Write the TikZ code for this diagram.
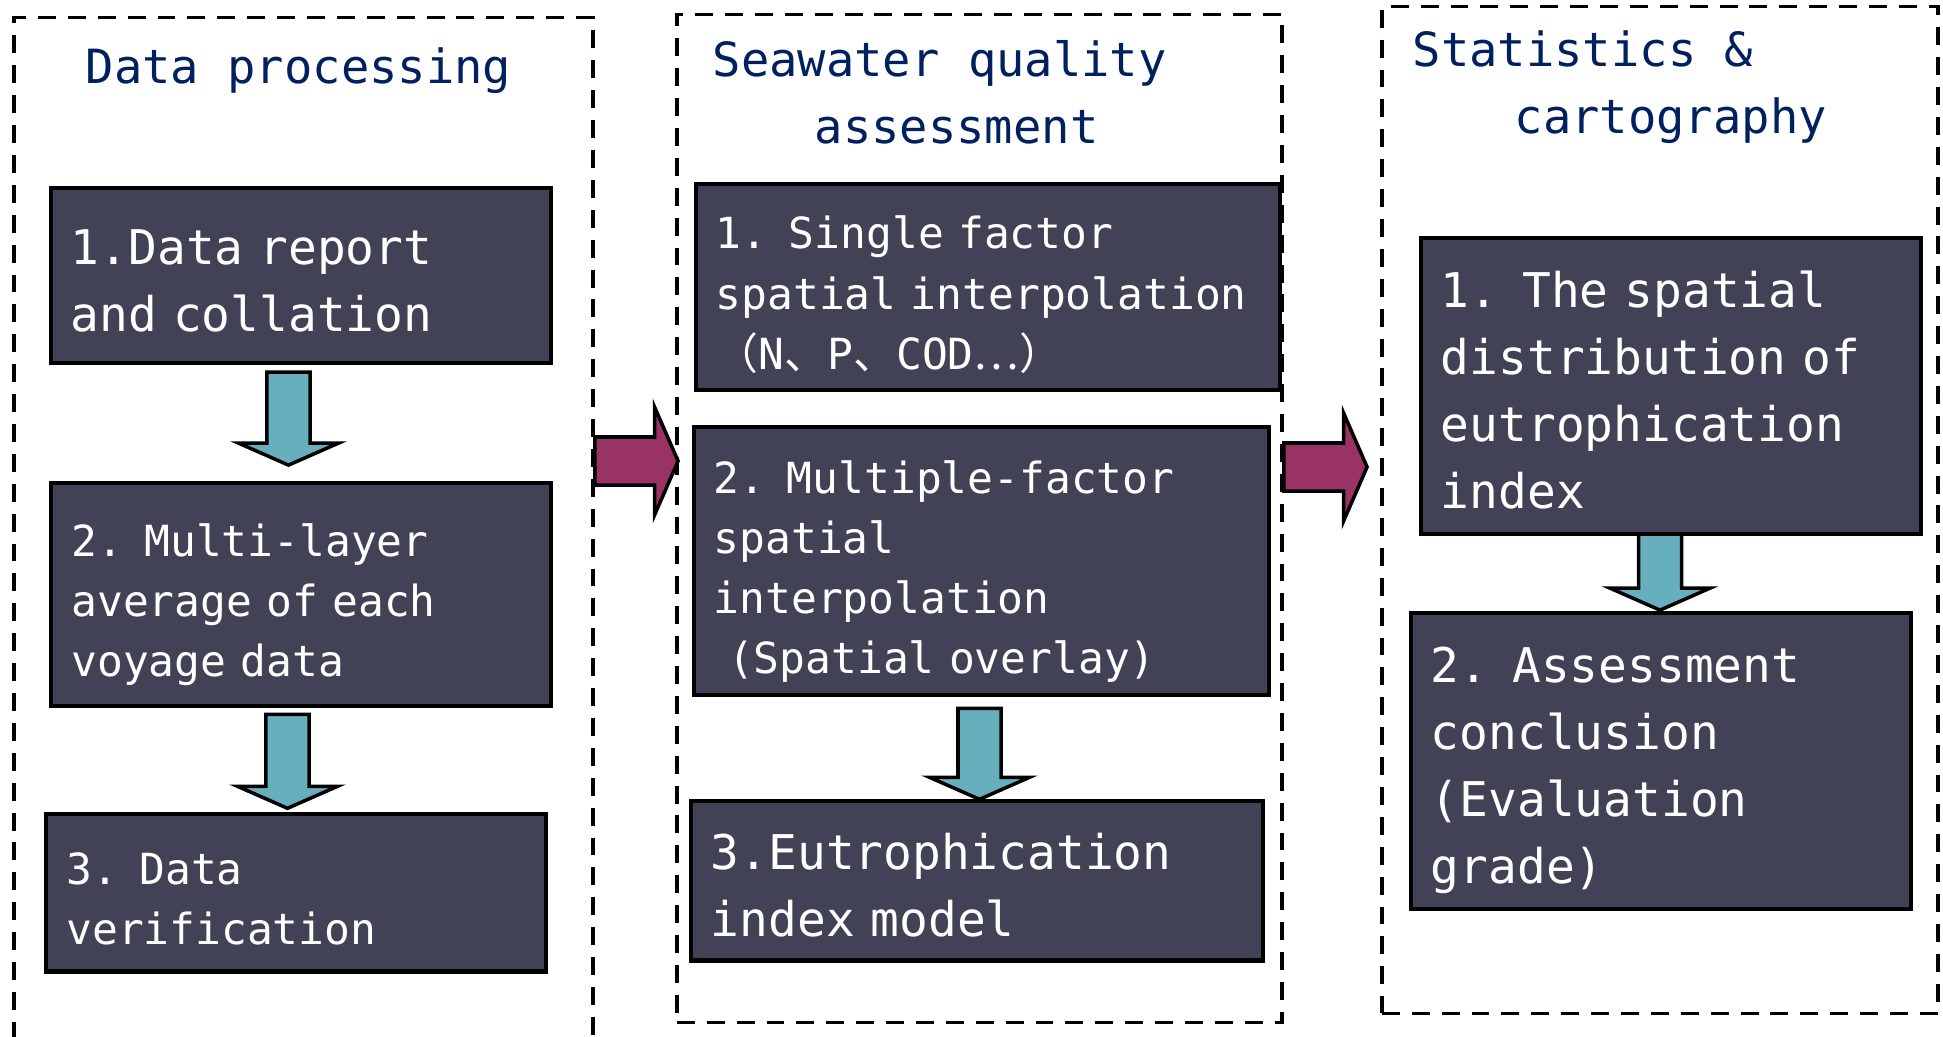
\documentclass[tikz,border=0pt]{standalone}
\usepackage{fontspec}
\setmainfont{DejaVu Sans Mono}
\newfontfamily\cjk{Noto Sans CJK SC}
\usetikzlibrary{positioning,calc}

\definecolor{boxgray}{RGB}{65,66,85}
\definecolor{titleblue}{RGB}{0,32,96}
\definecolor{arrowteal}{RGB}{104,175,189}
\definecolor{arrowplum}{RGB}{153,51,102}

\newcommand{\bigtype}{\fontsize{13.6pt}{19.05pt}\selectfont}
\newcommand{\smalltype}{\fontsize{12.2pt}{17.07pt}\selectfont}

\begin{document}
\begin{tikzpicture}[x=0.01cm, y=-0.01cm,
  frame/.style={draw, line width=1pt, dash pattern=on 5.1pt off 3.4pt},
  heading/.style={text=titleblue, align=left, inner sep=0pt,
    font=\fontsize{13.4pt}{18.9pt}\selectfont},
  stepbox/.style={draw=black, line width=1.2pt, fill=boxgray, text=white,
    align=left, inner xsep=0.2cm, inner ysep=0pt, outer sep=0pt,
    execute at begin node={\rule{0pt}{0.56cm}},
    execute at end node={\rule[-0.12cm]{0pt}{0.12cm}}},
  largetype/.style={font=\bigtype},
  smalltype/.style={font=\smalltype},
  downblock/.style={draw=black, line width=1pt, fill=arrowteal,
    to path={let \p1=(\tikztostart), \p2=(\tikztotarget) in
      (\x1-0.215cm,\y1) -- (\x1+0.215cm,\y1) -- (\x1+0.215cm,\y2+0.22cm)
      -- (\x1+0.5cm,\y2+0.22cm) -- (\x1,\y2) -- (\x1-0.5cm,\y2+0.22cm)
      -- (\x1-0.215cm,\y2+0.22cm) -- cycle}},
  rightblock/.style={draw=black, line width=1pt, fill=arrowplum,
    to path={let \p1=(\tikztostart), \p2=(\tikztotarget) in
      (\x1,\y1+0.24cm) -- (\x2-0.235cm,\y1+0.24cm) -- (\x2-0.235cm,\y1+0.54cm)
      -- (\x2,\y1) -- (\x2-0.235cm,\y1-0.54cm) -- (\x2-0.235cm,\y1-0.24cm)
      -- (\x1,\y1-0.24cm) -- cycle}}
]
\useasboundingbox (0,0) rectangle (1943,1036);

% the three stages
\node[frame, minimum width=5.79cm, minimum height=10.35cm] (dp) at (303.5,535.5) {};
\node[frame, minimum width=6.05cm, minimum height=10.07cm] (sw) at (979.5,518.5) {};
\node[frame, minimum width=5.56cm, minimum height=10.06cm] (sc) at (1660,510) {};

\node[heading, anchor=base west] (dpt) at (85,83) {Data processing};
\node[heading, anchor=base west] (swt) at (712,143) {Seawater quality\\\hspace*{1.02cm}assessment};
\node[heading, anchor=base west] (sct) at (1412,133) {Statistics \&\\\hspace*{1.02cm}cartography};

% data processing
\node[stepbox, largetype, minimum width=5cm, minimum height=1.75cm, text width=4.6cm]
  (l1) at (301,275.5) {1.Data report\\and collation};
\node[stepbox, smalltype, minimum width=4.99cm, minimum height=2.23cm, text width=4.59cm,
  below=1.2cm of l1] (l2) {2. Multi-layer\\average of each\\voyage data};
\node[stepbox, smalltype, minimum width=4.99cm, minimum height=1.57cm, text width=4.59cm,
  below=1.08cm of l2, xshift=-0.05cm] (l3) {3. Data\\verification};

% seawater quality assessment
\node[stepbox, smalltype, minimum width=5.84cm, minimum height=2.06cm, text width=5.44cm]
  (m1) at (988,287) {1. Single factor\\spatial~interpolation\\{\cjk （}N{\cjk 、}P{\cjk 、}COD{\cjk ⋯）}};
\node[stepbox, smalltype, minimum width=5.75cm, minimum height=2.68cm, text width=5.35cm,
  below=0.37cm of m1, xshift=-0.065cm] (m2) {2. Multiple-factor\\spatial\\interpolation\\~(Spatial overlay)};
\node[stepbox, largetype, minimum width=5.72cm, minimum height=1.59cm, text width=5.32cm,
  below=1.06cm of m2, xshift=-0.045cm] (m3) {3.Eutrophication\\index model};

% statistics and cartography
\node[stepbox, largetype, minimum width=5cm, minimum height=2.96cm, text width=4.6cm]
  (r1) at (1671,386) {1. The spatial\\distribution of\\eutrophication\\index};
\node[stepbox, largetype, minimum width=5cm, minimum height=2.96cm, text width=4.6cm,
  below=0.79cm of r1, xshift=-0.1cm] (r2) {2. Assessment\\conclusion\\(Evaluation\\grade)};

% block arrows
\draw[downblock] ([xshift=-0.125cm, yshift=-0.09cm]l1.south) to ([yshift=0.18cm]l2.north);
\draw[downblock] ([xshift=-0.135cm, yshift=-0.08cm]l2.south) to ([yshift=0.06cm]l3.north);
\draw[downblock] ([xshift=-0.02cm, yshift=-0.13cm]m2.south) to ([yshift=0.02cm]m3.north);
\draw[downblock] ([xshift=-0.11cm]r1.south) to ([yshift=0.03cm]r2.north);
\draw[rightblock] (dp.east |- 0,461) to ([xshift=0.03cm]sw.west |- 0,461);
\draw[rightblock] (sw.east |- 0,467) to ([xshift=-0.13cm]sc.west |- 0,467);
\end{tikzpicture}
\end{document}
